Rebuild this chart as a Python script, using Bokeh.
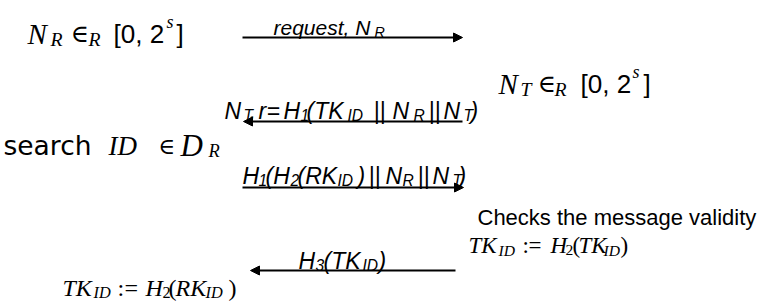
from bokeh.plotting import figure
from bokeh.models import ColumnDataSource, Arrow, NormalHead, Range1d
from bokeh.embed import file_html
from bokeh.resources import INLINE

# ---------------- content ----------------
# messages exchanged (arrows): start x, end x, row y
arrow_x_from = [242, 462, 242, 455]
arrow_x_to = [462, 243, 463, 250]
arrow_y = [37, 121, 187, 270]

# each formula: runs of (text, level) ; level 0 = normal, -1 = subscript, 1 = superscript
nr_runs = [("N", 0), ("R", -1), ("\u2208", 0), ("R", -1), ("[0, 2", 0), ("s", 1), ("]", 0)]
nt_runs = [("N", 0), ("T", -1), ("\u2208", 0), ("R", -1), ("[0, 2", 0), ("s", 1), ("]", 0)]
req_runs = [("request, N", 0), ("R", -1)]
resp_runs = [("N", 0), ("T", -1), (",", 0), ("r", 0), ("=", 0), ("H", 0), ("1", -1), ("(TK", 0),
             ("ID", -1), ("||", 0), ("N", 0), ("R", -1), ("||", 0), ("N", 0), ("T", -1), (")", 0)]
auth_runs = [("H", 0), ("1", -1), ("(H", 0), ("2", -1), ("(RK", 0), ("ID", -1), (")", 0), ("||", 0),
             ("N", 0), ("R", -1), ("||", 0), ("N", 0), ("T", -1), (")", 0)]
ack_runs = [("H", 0), ("3", -1), ("(TK", 0), ("ID", -1), (")", 0)]
search_runs = [("search", 0), ("ID", 0), ("\u2208", 0), ("D", 0), ("R", -1)]
check_runs = [("Checks the message validity", 0)]
tupd_runs = [("TK", 0), ("ID", -1), (":", 0), ("=", 0), ("H", 0), ("2", -1), ("(", 0), ("TK", 0), ("ID", -1), (")", 0)]
rupd_runs = [("TK", 0), ("ID", -1), (":", 0), ("=", 0), ("H", 0), ("2", -1), ("(", 0), ("RK", 0), ("ID", -1), (")", 0)]

# ---------------- layout ----------------
FONTS = {
    "mi": ("Liberation Serif", "italic"),
    "mn": ("Liberation Serif", "normal"),
    "sy": ("DejaVu Serif", "normal"),
    "si": ("Liberation Sans", "italic"),
    "sn": ("Liberation Sans", "normal"),
    "vn": ("DejaVu Sans", "normal"),
}

layout = [
    # runs, baseline, size, x positions, font codes, size factors
    (nr_runs, 33, 29, [27, 50, 70, 88, 113, 166, 176], ["mi", "mi", "sy", "mi", "sn", "mi", "sn"],
     [1, 1, 0.85, 1, 0.9, 1, 0.9]),
    (nt_runs, 83, 29, [498, 520, 537, 554, 580, 632, 643], ["mi", "mi", "sy", "mi", "sn", "mi", "sn"],
     [1, 1, 0.85, 1, 0.9, 1, 0.9]),
    (req_runs, 27, 21, [273, 374], ["si", "si"], [1, 1]),
    (resp_runs, 110, 23, [224, 243, 249, 258, 266, 283, 300, 306, 347, 373, 392, 413, 428, 443, 463, 470],
     ["si"] * 16, [1] * 16),
    (auth_runs, 175, 23, [242, 258, 265, 290, 297, 337, 357, 368, 385, 402, 417, 432, 452, 458],
     ["si"] * 14, [1] * 14),
    (ack_runs, 260, 23, [298, 315, 323, 362, 378], ["si"] * 5, [1] * 5),
    (search_runs, 145, 27, [3, 108, 158, 180, 208], ["vn", "mi", "sy", "mi", "mi"], [0.98, 1, 0.85, 1.15, 1]),
    (check_runs, 217, 22, [477], ["sn"], [1]),
    (tupd_runs, 245, 23, [468, 498, 522, 528, 550, 565, 572, 578, 603, 620],
     ["mi", "mi", "mn", "mn", "mi", "mn", "mn", "mi", "mi", "mn"], [1] * 10),
    (rupd_runs, 287, 24, [62, 93, 117, 124, 145, 162, 168, 175, 205, 228],
     ["mi", "mi", "mn", "mn", "mi", "mn", "mn", "mi", "mi", "mn"], [1] * 10),
]

cols = dict(x=[], y=[], text=[], font=[], style=[], size=[])
for runs, base, size, xs, codes, factors in layout:
    for (txt, lvl), x, code, f in zip(runs, xs, codes, factors):
        fam, sty = FONTS[code]
        if lvl == -1:
            yy, sz = base + 0.2 * size, 0.68 * size
        elif lvl == 1:
            yy, sz = base - 0.38 * size, 0.62 * size
        else:
            yy, sz = base, size * f
        cols["x"].append(x)
        cols["y"].append(yy)
        cols["text"].append(txt)
        cols["font"].append(fam)
        cols["style"].append(sty)
        cols["size"].append(f"{sz:.1f}px")

W, H = 757, 302
p = figure(width=W, height=H, output_backend="svg", toolbar_location=None,
           x_range=Range1d(0, W), y_range=Range1d(H, 0),
           min_border=0, x_axis_location=None, y_axis_location=None)
p.grid.visible = False
p.outline_line_color = None
p.background_fill_color = "white"
p.border_fill_color = "white"

p.text(x="x", y="y", text="text", source=ColumnDataSource(cols),
       text_font="font", text_font_style="style", text_font_size="size",
       text_baseline="alphabetic", text_align="left", text_color="black")

asrc = ColumnDataSource(dict(x0=arrow_x_from, x1=arrow_x_to, y=arrow_y))
p.add_layout(Arrow(end=NormalHead(size=9, fill_color="black", line_color="black", line_width=1),
                   x_start="x0", y_start="y", x_end="x1", y_end="y",
                   line_width=2, line_color="black", source=asrc))

open("out.html", "w").write(file_html(p, INLINE))
